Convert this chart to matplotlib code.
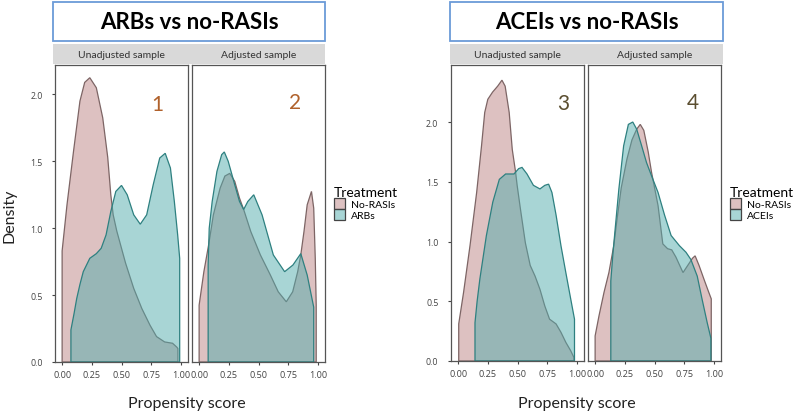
import matplotlib
matplotlib.use("Agg")
import matplotlib.pyplot as plt
from matplotlib.patches import Rectangle, Patch

plt.rcParams['font.family'] = ['Lato', 'DejaVu Sans']

W, H = 800, 414

# ---- data (propensity score vs density) ----
# ARBs vs no-RASIs, unadjusted
arb_unadj_norasi_x = [0.0, 0.041, 0.096, 0.15, 0.19, 0.233, 0.288, 0.342, 0.384, 0.41, 0.43,
                      0.46, 0.5, 0.534, 0.603, 0.671, 0.74, 0.795, 0.863, 0.93, 0.967, 0.975]
arb_unadj_norasi_y = [0.83, 1.175, 1.575, 1.95, 2.09, 2.125, 2.05, 1.825, 1.53, 1.25, 1.1,
                      0.98, 0.85, 0.74, 0.55, 0.4, 0.275, 0.19, 0.15, 0.14, 0.11, 0.10]
arb_unadj_arb_x = [0.074, 0.1, 0.123, 0.15, 0.178, 0.233, 0.288, 0.329, 0.37, 0.41, 0.452, 0.5,
                   0.548, 0.603, 0.658, 0.712, 0.767, 0.822, 0.868, 0.912, 0.945, 0.973, 0.99]
arb_unadj_arb_y = [0.24, 0.36, 0.475, 0.58, 0.675, 0.775, 0.81, 0.85, 0.95, 1.125, 1.275, 1.32,
                   1.25, 1.1, 1.03, 1.1, 1.325, 1.525, 1.56, 1.45, 1.2, 0.95, 0.775]
# ARBs vs no-RASIs, adjusted
arb_adj_norasi_x = [0.0, 0.04, 0.08, 0.12, 0.177, 0.217, 0.258, 0.3, 0.34, 0.375, 0.435, 0.516,
                    0.6, 0.666, 0.734, 0.788, 0.83, 0.856, 0.883, 0.91, 0.946, 0.965, 0.978, 0.986]
arb_adj_norasi_y = [0.425, 0.675, 0.875, 1.1, 1.3, 1.39, 1.41, 1.35, 1.225, 1.14, 0.975, 0.8,
                    0.65, 0.525, 0.45, 0.525, 0.675, 0.8, 0.975, 1.175, 1.275, 1.15, 0.775, 0.425]
arb_adj_arb_x = [0.076, 0.085, 0.11, 0.15, 0.19, 0.212, 0.245, 0.3, 0.34, 0.375, 0.41, 0.46,
                 0.53, 0.625, 0.72, 0.79, 0.856, 0.91, 0.965]
arb_adj_arb_y = [0.725, 1.0, 1.2, 1.425, 1.55, 1.57, 1.5, 1.325, 1.2, 1.14, 1.2, 1.25,
                 1.1, 0.8, 0.675, 0.725, 0.81, 0.65, 0.41]
# ACEIs vs no-RASIs, unadjusted
acei_unadj_norasi_x = [0.005, 0.046, 0.1, 0.156, 0.197, 0.224, 0.25, 0.29, 0.333, 0.369, 0.396,
                       0.43, 0.456, 0.484, 0.497, 0.525, 0.566, 0.607, 0.648, 0.689, 0.73,
                       0.77, 0.825, 0.866, 0.907, 0.948, 0.975]
acei_unadj_norasi_y = [0.31, 0.575, 0.965, 1.41, 1.8, 2.08, 2.19, 2.25, 2.3, 2.35, 2.3,
                       2.08, 1.77, 1.58, 1.47, 1.27, 0.99, 0.8, 0.71, 0.6, 0.46,
                       0.35, 0.31, 0.24, 0.156, 0.086, 0.03]
acei_unadj_acei_x = [0.142, 0.16, 0.183, 0.238, 0.292, 0.347, 0.4, 0.47, 0.51, 0.538, 0.58,
                     0.634, 0.689, 0.73, 0.762, 0.79, 0.825, 0.866, 0.907, 0.948, 0.98]
acei_unadj_acei_y = [0.32, 0.5, 0.686, 1.05, 1.33, 1.52, 1.565, 1.565, 1.61, 1.62, 1.565,
                     1.47, 1.44, 1.47, 1.48, 1.41, 1.22, 0.965, 0.74, 0.52, 0.35]
# ACEIs vs no-RASIs, adjusted
acei_adj_norasi_x = [0.0, 0.033, 0.075, 0.116, 0.157, 0.185, 0.22, 0.268, 0.31, 0.35, 0.38,
                     0.41, 0.447, 0.475, 0.53, 0.57, 0.61, 0.645, 0.68, 0.74, 0.78, 0.82,
                     0.842, 0.875, 0.916, 0.957, 0.978]
acei_adj_norasi_y = [0.21, 0.38, 0.575, 0.74, 0.965, 1.19, 1.45, 1.69, 1.85, 1.94, 1.98,
                     1.93, 1.75, 1.58, 1.3, 0.98, 0.94, 0.93, 0.87, 0.74, 0.8, 0.86,
                     0.88, 0.8, 0.686, 0.575, 0.52]
acei_adj_acei_x = [0.132, 0.15, 0.171, 0.2, 0.24, 0.28, 0.317, 0.35, 0.392, 0.433, 0.475, 0.53,
                   0.585, 0.64, 0.71, 0.765, 0.806, 0.86, 0.9, 0.944, 0.975]
acei_adj_acei_y = [0.67, 0.9, 1.13, 1.44, 1.8, 1.98, 2.0, 1.94, 1.8, 1.66, 1.55, 1.41,
                   1.22, 1.05, 0.965, 0.91, 0.85, 0.71, 0.52, 0.32, 0.19]

x_ticks = [0.0, 0.25, 0.5, 0.75, 1.0]
x_ticklabels = ["0.00", "0.25", "0.50", "0.75", "1.00"]
y_ticks = [0.0, 0.5, 1.0, 1.5, 2.0]
y_ticklabels = ["0.0", "0.5", "1.0", "1.5", "2.0"]
panel_titles = ["Unadjusted sample", "Adjusted sample"]

PINK = (0.74, 0.52, 0.52, 0.5)
TEAL = (0.32, 0.68, 0.68, 0.5)
PINK_EDGE = "#7d6565"
TEAL_EDGE = "#2e8080"
TICK_FONT = ["Open Sans", "DejaVu Sans"]


def box(x0, y0, x1, y1):
    return [x0 / W, 1 - y1 / H, (x1 - x0) / W, (y1 - y0) / H]


def density(ax, xs, ys, fc, ec):
    px = [xs[0]] + list(xs) + [xs[-1]]
    py = [0.0] + list(ys) + [0.0]
    ax.fill(px, py, facecolor=fc, edgecolor=ec, lw=0.9)


fig = plt.figure(figsize=(W / 100, H / 100), dpi=100)

groups = [
    dict(title="ARBs vs no-RASIs", tbox=(53, 3, 325, 42), strip=(53, 45, 325, 65),
         panels=[(55, 66, 188, 363), (192, 66, 325, 363)], ytop=2.22,
         curves=[(arb_unadj_norasi_x, arb_unadj_norasi_y, arb_unadj_arb_x, arb_unadj_arb_y),
                 (arb_adj_norasi_x, arb_adj_norasi_y, arb_adj_arb_x, arb_adj_arb_y)],
         nums=[("1", 0.767, 0.869), ("2", 0.774, 0.875)], numcolor="#b0612b",
         label="ARBs", legx=334, xlab=187, ylab=True),
    dict(title="ACEIs vs no-RASIs", tbox=(450, 3, 723, 42), strip=(450, 45, 723, 65),
         panels=[(451, 66, 584, 362), (588, 66, 721, 362)], ytop=2.477,
         curves=[(acei_unadj_norasi_x, acei_unadj_norasi_y, acei_unadj_acei_x, acei_unadj_acei_y),
                 (acei_adj_norasi_x, acei_adj_norasi_y, acei_adj_acei_x, acei_adj_acei_y)],
         nums=[("3", 0.842, 0.872), ("4", 0.79, 0.875)], numcolor="#5b4e30",
         label="ACEIs", legx=730, xlab=577, ylab=False),
]

for g in groups:
    tx0, ty0, tx1, ty1 = g["tbox"]
    fig.patches.append(Rectangle((tx0 / W, 1 - ty1 / H), (tx1 - tx0) / W, (ty1 - ty0) / H,
                                 transform=fig.transFigure, facecolor="white",
                                 edgecolor="#6b9bd8", lw=1.3))
    fig.text((tx0 + tx1) / 2 / W, 1 - (ty0 + ty1) / 2 / H, g["title"], ha="center", va="center",
             fontsize=16, fontweight="bold", color="black")
    sx0, sy0, sx1, sy1 = g["strip"]
    fig.patches.append(Rectangle((sx0 / W, 1 - sy1 / H), (sx1 - sx0) / W, (sy1 - sy0) / H,
                                 transform=fig.transFigure, facecolor="#d9d9d9",
                                 edgecolor="none"))
    for i, pb in enumerate(g["panels"]):
        ax = fig.add_axes(box(*pb))
        nx, ny, tx, ty = g["curves"][i]
        density(ax, nx, ny, PINK, PINK_EDGE)
        density(ax, tx, ty, TEAL, TEAL_EDGE)
        ax.set_xlim(-0.06, 1.06)
        ax.set_ylim(0, g["ytop"])
        ax.set_xticks(x_ticks)
        ax.set_xticklabels(x_ticklabels, family=TICK_FONT)
        ax.set_yticks(y_ticks)
        ax.set_yticklabels(y_ticklabels, family=TICK_FONT)
        ax.tick_params(axis="x", labelsize=6.6, colors="#444444", length=2, pad=4)
        ax.tick_params(axis="y", labelsize=6.3, colors="#444444", length=2, pad=7)
        if i == 1:
            ax.tick_params(axis="y", left=False, labelleft=False)
        for s in ax.spines.values():
            s.set_color("#555555")
            s.set_linewidth(0.9)
        fig.text((pb[0] + pb[2]) / 2 / W, 1 - 55 / H, panel_titles[i], ha="center", va="center",
                 fontsize=7.5, color="#333333")
        n, nxp, nyp = g["nums"][i]
        ax.text(nxp, nyp, n, transform=ax.transAxes, ha="center", va="center",
                fontsize=15, color=g["numcolor"])
    fig.text(g["xlab"] / W, 1 - 404 / H, "Propensity score", ha="center", va="center",
             fontsize=11.5, color="#222222")
    if g["ylab"]:
        fig.text(10 / W, 1 - 216 / H, "Density", ha="center", va="center", rotation=90,
                 fontsize=11.5, color="#222222")
    handles = [Patch(facecolor=PINK, edgecolor="#444444", lw=0.9, label="No-RASIs"),
               Patch(facecolor=TEAL, edgecolor="#444444", lw=0.9, label=g["label"])]
    fig.legend(handles=handles, title="Treatment", loc="upper left",
               bbox_to_anchor=(g["legx"] / W, 1 - 187 / H), frameon=False,
               fontsize=7.5, title_fontsize=10, handlelength=1.1, handleheight=1.2,
               handletextpad=0.5, labelspacing=0.0, borderaxespad=0, borderpad=0,
               alignment="left")

fig.savefig("out.png", dpi=100)
